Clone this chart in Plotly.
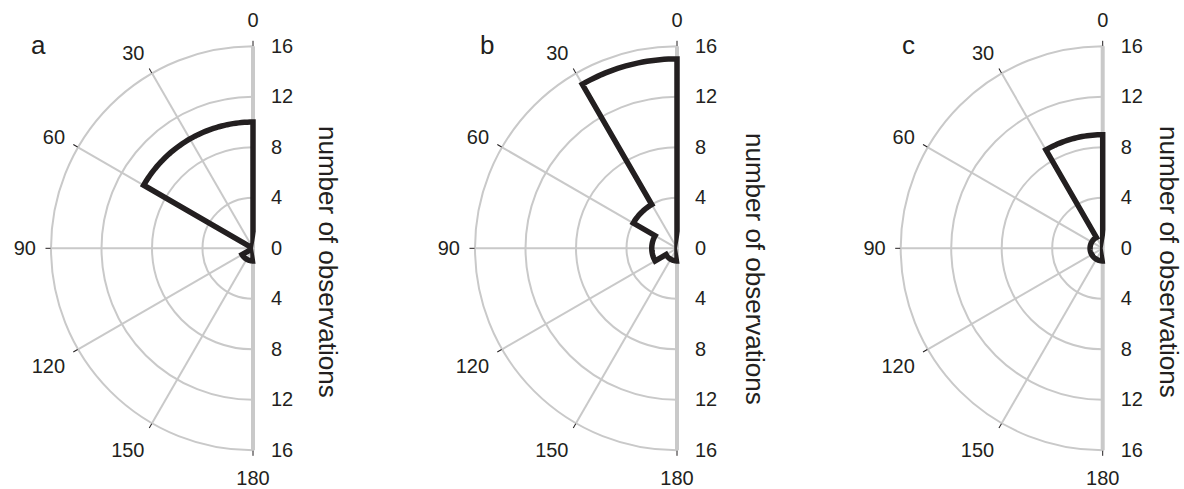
import numpy as np
import plotly.graph_objects as go

# ---- data (polar histogram, 30-degree bins from 0 to 180) ----
bin_edges = [0, 30, 60, 90, 120, 150, 180]
counts_a = [10, 10, 0, 0, 1, 1]
counts_b = [15, 4, 2, 2, 1, 1]
counts_c = [9, 1, 1, 1, 1, 1]
panel_labels = ["a", "b", "c"]
theta_ticks = [0, 30, 60, 90, 120, 150, 180]
r_ticks_up = [0, 4, 8, 12, 16]
r_ticks_down = [4, 8, 12, 16]
r_max = 16
axis_title = "number of observations"

FONT = "Liberation Sans, Arial, Helvetica, sans-serif"
TXT = "#231f20"
GRID = "#c9c9c9"
LINE = "#231f20"

W, H = 1184, 489
centers_px = [253, 677, 1102.7]   # x of polar centre in px
cy_px = 248.3
R_px = 202.0
title_x = [328, 755, 1169]
title_y = [262, 269, 262]
letter_x = [38, 487, 908]

# the data subplot uses a slightly wider sector so the thick outline
# along the 0/180 axis is not clipped by the half-disc
WIDE_SECTOR = [80, 280]
wide_extra = np.cos(np.radians(WIDE_SECTOR[0]))


def stairs(counts, edges, n=24):
    """Outline of a stairs-style polar histogram (arcs per bin)."""
    th, r = [edges[0]], [0]
    for i, c in enumerate(counts):
        seg = np.linspace(edges[i], edges[i + 1], n)
        th += list(seg)
        r += [c] * n
    th.append(edges[-1])
    r.append(0)
    return th, r


fig = go.Figure()
annotations = []
all_counts = [counts_a, counts_b, counts_c]

for k, counts in enumerate(all_counts):
    cx = centers_px[k]
    cy = cy_px
    dom_y = [1 - (cy + R_px) / H, 1 - (cy - R_px) / H]
    dom_x_half = [(cx - R_px) / W, cx / W]
    dom_x_wide = [(cx - R_px) / W, (cx + R_px * wide_extra) / W]
    low = f"polar{2 * k + 1}" if k > 0 else "polar"
    top = f"polar{2 * k + 2}"

    # lower polar: grid, angle labels, upward radial axis
    fig.add_trace(go.Scatterpolar(r=[], theta=[], subplot=low, showlegend=False))
    fig.update_layout(**{low: dict(
        domain=dict(x=dom_x_half, y=dom_y),
        sector=[90, 270],
        bgcolor="rgba(0,0,0,0)",
        angularaxis=dict(
            rotation=90, direction="counterclockwise",
            tickvals=theta_ticks, ticktext=[str(v) for v in theta_ticks],
            ticks="outside", ticklen=10, tickcolor="rgba(0,0,0,0)",
            showline=True, linecolor=GRID, linewidth=2,
            showgrid=True, gridcolor=GRID, gridwidth=1.5,
            tickfont=dict(family=FONT, size=20, color=TXT),
        ),
        radialaxis=dict(
            range=[0, r_max], angle=90, side="clockwise",
            tickvals=r_ticks_up, ticktext=[str(v) for v in r_ticks_up],
            showgrid=True, gridcolor=GRID, gridwidth=2,
            showline=True, linecolor=GRID, linewidth=4,
            ticks="outside", ticklen=12, tickcolor="rgba(0,0,0,0)",
            tickangle=90,
            tickfont=dict(family=FONT, size=20, color=TXT),
        ),
    )})

    # upper polar: data outline, short angle ticks, downward radial axis
    th, r = stairs(counts, bin_edges)
    fig.add_trace(go.Scatterpolar(
        r=r, theta=th, subplot=top, mode="lines",
        line=dict(color=LINE, width=5.5), showlegend=False,
        hoverinfo="skip",
    ))
    fig.update_layout(**{top: dict(
        domain=dict(x=dom_x_wide, y=dom_y),
        sector=WIDE_SECTOR,
        bgcolor="rgba(0,0,0,0)",
        angularaxis=dict(
            rotation=90, direction="counterclockwise",
            tickvals=theta_ticks, showticklabels=False,
            ticks="outside", ticklen=5, tickcolor=TXT, tickwidth=1,
            showline=False, showgrid=False,
        ),
        radialaxis=dict(
            range=[0, r_max], angle=270, side="counterclockwise",
            tickvals=r_ticks_down, ticktext=[str(v) for v in r_ticks_down],
            showgrid=False, showline=True, linecolor=GRID, linewidth=4,
            ticks="outside", ticklen=12, tickcolor="rgba(0,0,0,0)",
            tickangle=-90, layer="below traces",
            tickfont=dict(family=FONT, size=20, color=TXT),
        ),
    )})

    annotations.append(dict(
        x=title_x[k] / W, y=1 - title_y[k] / H, xref="paper", yref="paper",
        text=axis_title, textangle=90, showarrow=False,
        font=dict(family=FONT, size=26, color=TXT),
        xanchor="center", yanchor="middle", borderpad=0,
    ))
    annotations.append(dict(
        x=letter_x[k] / W, y=1 - 45 / H, xref="paper", yref="paper",
        text=panel_labels[k], showarrow=False,
        font=dict(family=FONT, size=26, color=TXT),
        xanchor="center", yanchor="middle",
    ))

fig.update_layout(
    width=W, height=H,
    margin=dict(l=0, r=0, t=0, b=0),
    paper_bgcolor="white", plot_bgcolor="white",
    annotations=annotations,
    showlegend=False,
)

fig.write_html(
    "out.html",
    config={"displayModeBar": False},
    post_script="document.body.style.margin='0';document.body.style.overflow='hidden';",
)
